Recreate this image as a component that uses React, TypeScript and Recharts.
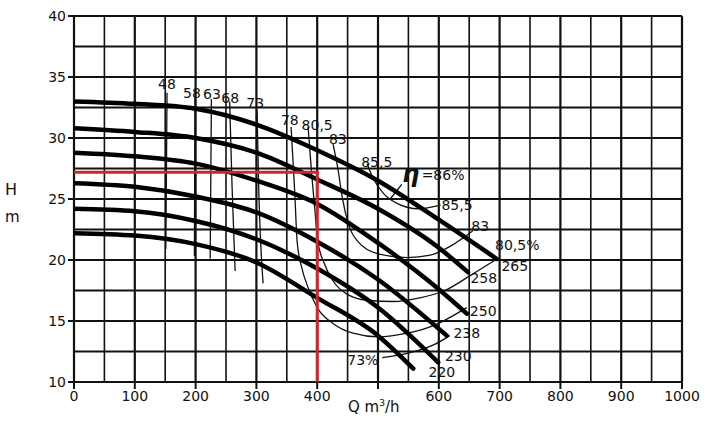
import { LineChart, Line, XAxis, YAxis, ReferenceLine, ReferenceDot } from 'recharts';

// pump head curves per impeller diameter (Q m3/h, H m)
const curve265 = [
  { q: 0, h: 33.0 }, { q: 100, h: 32.8 }, { q: 200, h: 32.4 }, { q: 300, h: 31.1 },
  { q: 400, h: 29.0 }, { q: 500, h: 26.5 }, { q: 600, h: 23.3 }, { q: 695, h: 20.1 },
];
const curve258 = [
  { q: 0, h: 30.8 }, { q: 100, h: 30.5 }, { q: 200, h: 30.0 }, { q: 300, h: 28.8 },
  { q: 400, h: 26.6 }, { q: 500, h: 24.2 }, { q: 600, h: 21.0 }, { q: 648, h: 19.0 },
];
const curve250 = [
  { q: 0, h: 28.8 }, { q: 100, h: 28.5 }, { q: 200, h: 27.9 }, { q: 300, h: 26.5 },
  { q: 400, h: 24.6 }, { q: 500, h: 21.4 }, { q: 600, h: 17.6 }, { q: 646, h: 15.6 },
];
const curve238 = [
  { q: 0, h: 26.3 }, { q: 100, h: 26.0 }, { q: 200, h: 25.2 }, { q: 300, h: 23.9 },
  { q: 400, h: 21.5 }, { q: 500, h: 18.4 }, { q: 613, h: 13.8 },
];
const curve230 = [
  { q: 0, h: 24.2 }, { q: 100, h: 24.0 }, { q: 200, h: 23.2 }, { q: 300, h: 21.7 },
  { q: 400, h: 19.3 }, { q: 500, h: 16.1 }, { q: 599, h: 11.6 },
];
const curve220 = [
  { q: 0, h: 22.2 }, { q: 100, h: 22.0 }, { q: 200, h: 21.3 }, { q: 300, h: 19.8 },
  { q: 400, h: 16.9 }, { q: 500, h: 13.8 }, { q: 558, h: 11.1 },
];

// iso-efficiency lines
const eff48 = [{ q: 151, h: 20.9 }, { q: 152, h: 27 }, { q: 153, h: 33.7 }];
const eff58 = [{ q: 198, h: 20.3 }, { q: 199, h: 33.4 }];
const eff63 = [{ q: 224, h: 20.1 }, { q: 226, h: 33.2 }];
const eff68 = [{ q: 256, h: 33.0 }, { q: 260, h: 26 }, { q: 265, h: 19.1 }];
const eff73 = [{ q: 301, h: 32.3 }, { q: 304, h: 25.6 }, { q: 311, h: 18.1 }];
const eff78 = [
  { q: 357, h: 30.9 }, { q: 360, h: 28.3 }, { q: 363, h: 25.6 }, { q: 367, h: 21.5 },
  { q: 375, h: 19.3 }, { q: 383, h: 18.0 }, { q: 400, h: 16.1 }, { q: 426, h: 14.8 },
  { q: 459, h: 14.0 }, { q: 500, h: 13.7 }, { q: 548, h: 14.0 }, { q: 590, h: 14.6 },
  { q: 646, h: 16.1 },
];
const eff80 = [
  { q: 385, h: 30.9 }, { q: 391, h: 27.0 }, { q: 396, h: 24.2 }, { q: 401, h: 21.5 },
  { q: 411, h: 19.8 }, { q: 426, h: 18.3 }, { q: 449, h: 17.2 }, { q: 482, h: 16.7 },
  { q: 525, h: 16.6 }, { q: 569, h: 16.9 }, { q: 610, h: 17.5 }, { q: 651, h: 18.7 },
  { q: 696, h: 20.1 },
];
const eff83 = [
  { q: 426, h: 29.5 }, { q: 434, h: 27.5 }, { q: 441, h: 25.2 }, { q: 451, h: 23.0 },
  { q: 467, h: 21.5 }, { q: 500, h: 20.5 }, { q: 548, h: 20.2 }, { q: 586, h: 20.4 },
  { q: 618, h: 21.1 }, { q: 656, h: 22.4 },
];
const eff855 = [
  { q: 482, h: 27.9 }, { q: 492, h: 26.7 }, { q: 510, h: 25.4 }, { q: 533, h: 24.6 },
  { q: 566, h: 24.2 }, { q: 603, h: 24.5 },
];
const eff73right = [{ q: 507, h: 12.0 }, { q: 553, h: 12.4 }, { q: 594, h: 13.1 }, { q: 618, h: 13.8 }];
const eta86Leader = [{ q: 520, h: 25.0 }, { q: 539, h: 26.2 }];

// selected duty point
const dutyLine = [{ q: 0, h: 27.2 }, { q: 400, h: 27.2 }, { q: 400, h: 10 }];

const qTicks = [0, 100, 200, 300, 400, 500, 600, 700, 800, 900, 1000];
const hTicks = [10, 15, 20, 25, 30, 35, 40];
const qGrid = [0, 50, 100, 150, 200, 250, 300, 350, 400, 450, 500, 550, 600, 650, 700, 750, 800, 850, 900, 950, 1000];
const hGrid = [10, 12.5, 15, 17.5, 20, 22.5, 25, 27.5, 30, 32.5, 35, 37.5, 40];

const labels = [
  { q: 153, h: 34.4, text: '48' },
  { q: 194, h: 33.7, text: '58' },
  { q: 227, h: 33.6, text: '63' },
  { q: 257, h: 33.3, text: '68' },
  { q: 298, h: 32.9, text: '73' },
  { q: 355, h: 31.5, text: '78' },
  { q: 400, h: 31.1, text: '80,5' },
  { q: 434, h: 29.9, text: '83' },
  { q: 498, h: 28.0, text: '85,5' },
  { q: 607, h: 27.0, text: '=86%' },
  { q: 630, h: 24.5, text: '85,5' },
  { q: 668, h: 22.8, text: '83' },
  { q: 729, h: 21.2, text: '80,5%' },
  { q: 725, h: 19.5, text: '265' },
  { q: 674, h: 18.5, text: '258' },
  { q: 673, h: 15.8, text: '250' },
  { q: 646, h: 14.0, text: '238' },
  { q: 632, h: 12.1, text: '230' },
  { q: 605, h: 10.8, text: '220' },
  { q: 475, h: 11.8, text: '73%' },
];

const pumpCurves = [curve265, curve258, curve250, curve238, curve230, curve220];
const effCurves = [eff48, eff58, eff63, eff68, eff73, eff78, eff80, eff83, eff855, eff73right, eta86Leader];

const font = 'DejaVu Sans, sans-serif';

export default function App() {
  return (
    <div style={{ position: 'absolute', left: 0, top: 0, width: 712, height: 424, background: '#fff', fontFamily: font }}>
      <LineChart width={712} height={424} margin={{ top: 16, right: 30, bottom: 12, left: 30 }}>
        <XAxis
          type="number"
          dataKey="q"
          domain={[0, 1000]}
          ticks={qTicks}
          tickFormatter={(v) => (v === 500 ? '' : String(v))}
          height={30}
          tickSize={7}
          axisLine={false}
          tickLine={{ stroke: '#111', strokeWidth: 2 }}
          tick={{ fill: '#111', fontSize: 14, fontFamily: font }}
          allowDataOverflow
        />
        <YAxis
          type="number"
          dataKey="h"
          domain={[10, 40]}
          ticks={hTicks}
          width={44}
          tickSize={6}
          axisLine={false}
          tickLine={{ stroke: '#111', strokeWidth: 2 }}
          tick={{ fill: '#111', fontSize: 14, fontFamily: font }}
          allowDataOverflow
        />
        {qGrid.map((q) => (
          <ReferenceLine key={'vq' + q} x={q} stroke="#111" strokeWidth={q % 100 === 0 ? 2.2 : 1.6} />
        ))}
        {hGrid.map((h) => (
          <ReferenceLine key={'hh' + h} y={h} stroke="#111" strokeWidth={h % 5 === 0 ? 2.2 : 1.8} />
        ))}
        {effCurves.map((d, i) => (
          <Line
            key={'eff' + i}
            data={d}
            dataKey="h"
            type="monotone"
            stroke="#111"
            strokeWidth={1.3}
            dot={false}
            isAnimationActive={false}
          />
        ))}
        {pumpCurves.map((d, i) => (
          <Line
            key={'pc' + i}
            data={d}
            dataKey="h"
            type="monotone"
            stroke="#000"
            strokeWidth={4.5}
            strokeLinecap="round"
            dot={false}
            isAnimationActive={false}
          />
        ))}
        <Line
          data={dutyLine}
          dataKey="h"
          type="linear"
          stroke="#d3232e"
          strokeWidth={3}
          dot={false}
          isAnimationActive={false}
        />
        {labels.map((l, i) => (
          <ReferenceDot
            key={'lb' + i}
            x={l.q}
            y={l.h}
            r={0}
            fill="none"
            stroke="none"
            ifOverflow="visible"
            label={{ value: l.text, position: 'center', fill: '#111', fontSize: 14, fontFamily: font }}
          />
        ))}
        <ReferenceDot
          x={554}
          y={27.1}
          r={0}
          fill="none"
          stroke="none"
          label={{ value: 'η', position: 'center', fill: '#111', fontSize: 24, fontWeight: 'bold', fontStyle: 'italic', fontFamily: font }}
        />
      </LineChart>
      <div style={{ position: 'absolute', left: 5, top: 180, fontSize: 16, color: '#111' }}>H</div>
      <div style={{ position: 'absolute', left: 5, top: 208, fontSize: 15, color: '#111' }}>m</div>
      <div style={{ position: 'absolute', left: 348, top: 398, fontSize: 15, color: '#111' }}>
        Q m<sup style={{ fontSize: 9 }}>3</sup>/h
      </div>
    </div>
  );
}
